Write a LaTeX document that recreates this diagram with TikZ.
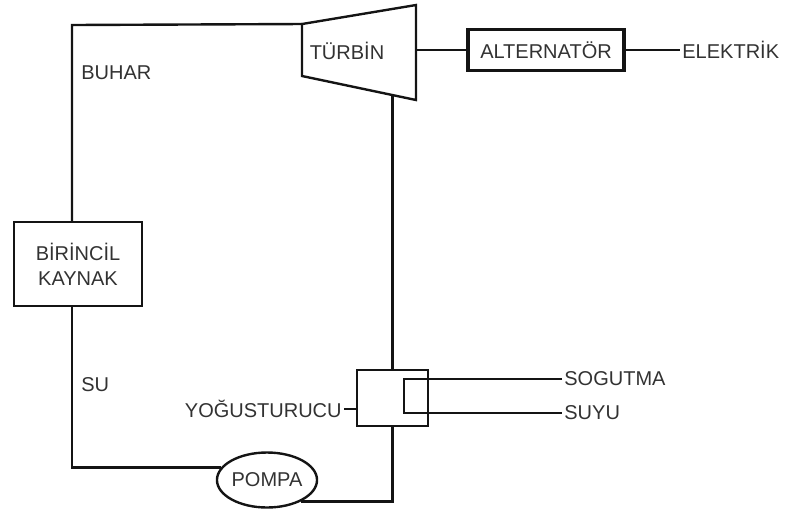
\documentclass[tikz,border=0pt]{standalone}
\usepackage{fontspec}
\setmainfont{Liberation Sans}
\usepackage{xcolor}
\definecolor{cizgi}{RGB}{20, 20, 20}
\definecolor{yazi}{RGB}{50, 50, 50}
\usetikzlibrary{shapes.geometric, calc}

\begin{document}
\begin{tikzpicture}[x=0.5pt, y=-0.5pt,
    hat/.style={draw=cizgi, line width=1.2pt},
    kutu/.style={draw=cizgi, line width=1.2pt, align=center, text=yazi,
        font=\fontsize{10}{12.5}\selectfont, inner sep=0pt},
    etiket/.style={text=yazi, font=\fontsize{10}{12}\selectfont, inner sep=1pt}]

\useasboundingbox (0,0) rectangle (789,511);

% === Türbin (yamuk) ===
\draw[hat] (302,24) coordinate (tsolust) -- (416,5) coordinate (tsagust)
    -- (416,100) coordinate (tsagalt) -- (302,76) coordinate (tsolalt) -- cycle;
\node[etiket] (turbin) at (347,51) {TÜRBİN};
\coordinate (tmil) at (416,50);
\coordinate (tcikis) at (392.5,95);

% === Alternatör ve elektrik ===
\node[kutu, line width=1.8pt, minimum width=78pt, minimum height=20.5pt] (alternator) at (546,50) {ALTERNATÖR};
\node[etiket, anchor=west] (elektrik) at (680,50) {ELEKTRİK};
\draw[hat] (tmil) -- (alternator.west);
\draw[hat] (alternator.east) -- (elektrik.west);

% === Birincil kaynak ===
\node[kutu, minimum width=64pt, minimum height=42pt] (kaynak) at (78,264) {BİRİNCİL\\KAYNAK};
\coordinate (buharust) at (72,25);
\node[etiket, anchor=west] (buhar) at (79,73) {BUHAR};
\node[etiket, anchor=west] (su) at (79,385) {SU};
\draw[hat] (kaynak.north -| buharust) -- (buharust) -- (tsolust);

% === Yoğuşturucu ===
\node[kutu, minimum width=35.5pt, minimum height=28pt] (kondenser) at (392.5,398) {};
\node[etiket, anchor=east] (yogus) at (344,409) {YOĞUSTURUCU};
\draw[hat] (yogus.east) -- (yogus.east -| kondenser.west);
\draw[hat] (tcikis) -- (kondenser.north);

% Soğutma suyu
\node[etiket, anchor=west] (sogutma) at (562,379) {SOGUTMA};
\node[etiket, anchor=west] (suyu) at (562,413) {SUYU};
\coordinate (ic) at (404,396);
\draw[hat] (sogutma.west) -| (ic) |- (suyu.west);

% === Pompa ===
\node[ellipse, draw=cizgi, line width=1.2pt, minimum width=45pt, minimum height=27.5pt,
    inner sep=0pt, text=yazi, font=\fontsize{10}{12}\selectfont] (pompa) at (267,480) {POMPA};
\draw[hat] (kaynak.south -| buharust) |- (pompa.165);
\draw[hat] (pompa.-32) -| (kondenser.south);

\end{tikzpicture}
\end{document}
